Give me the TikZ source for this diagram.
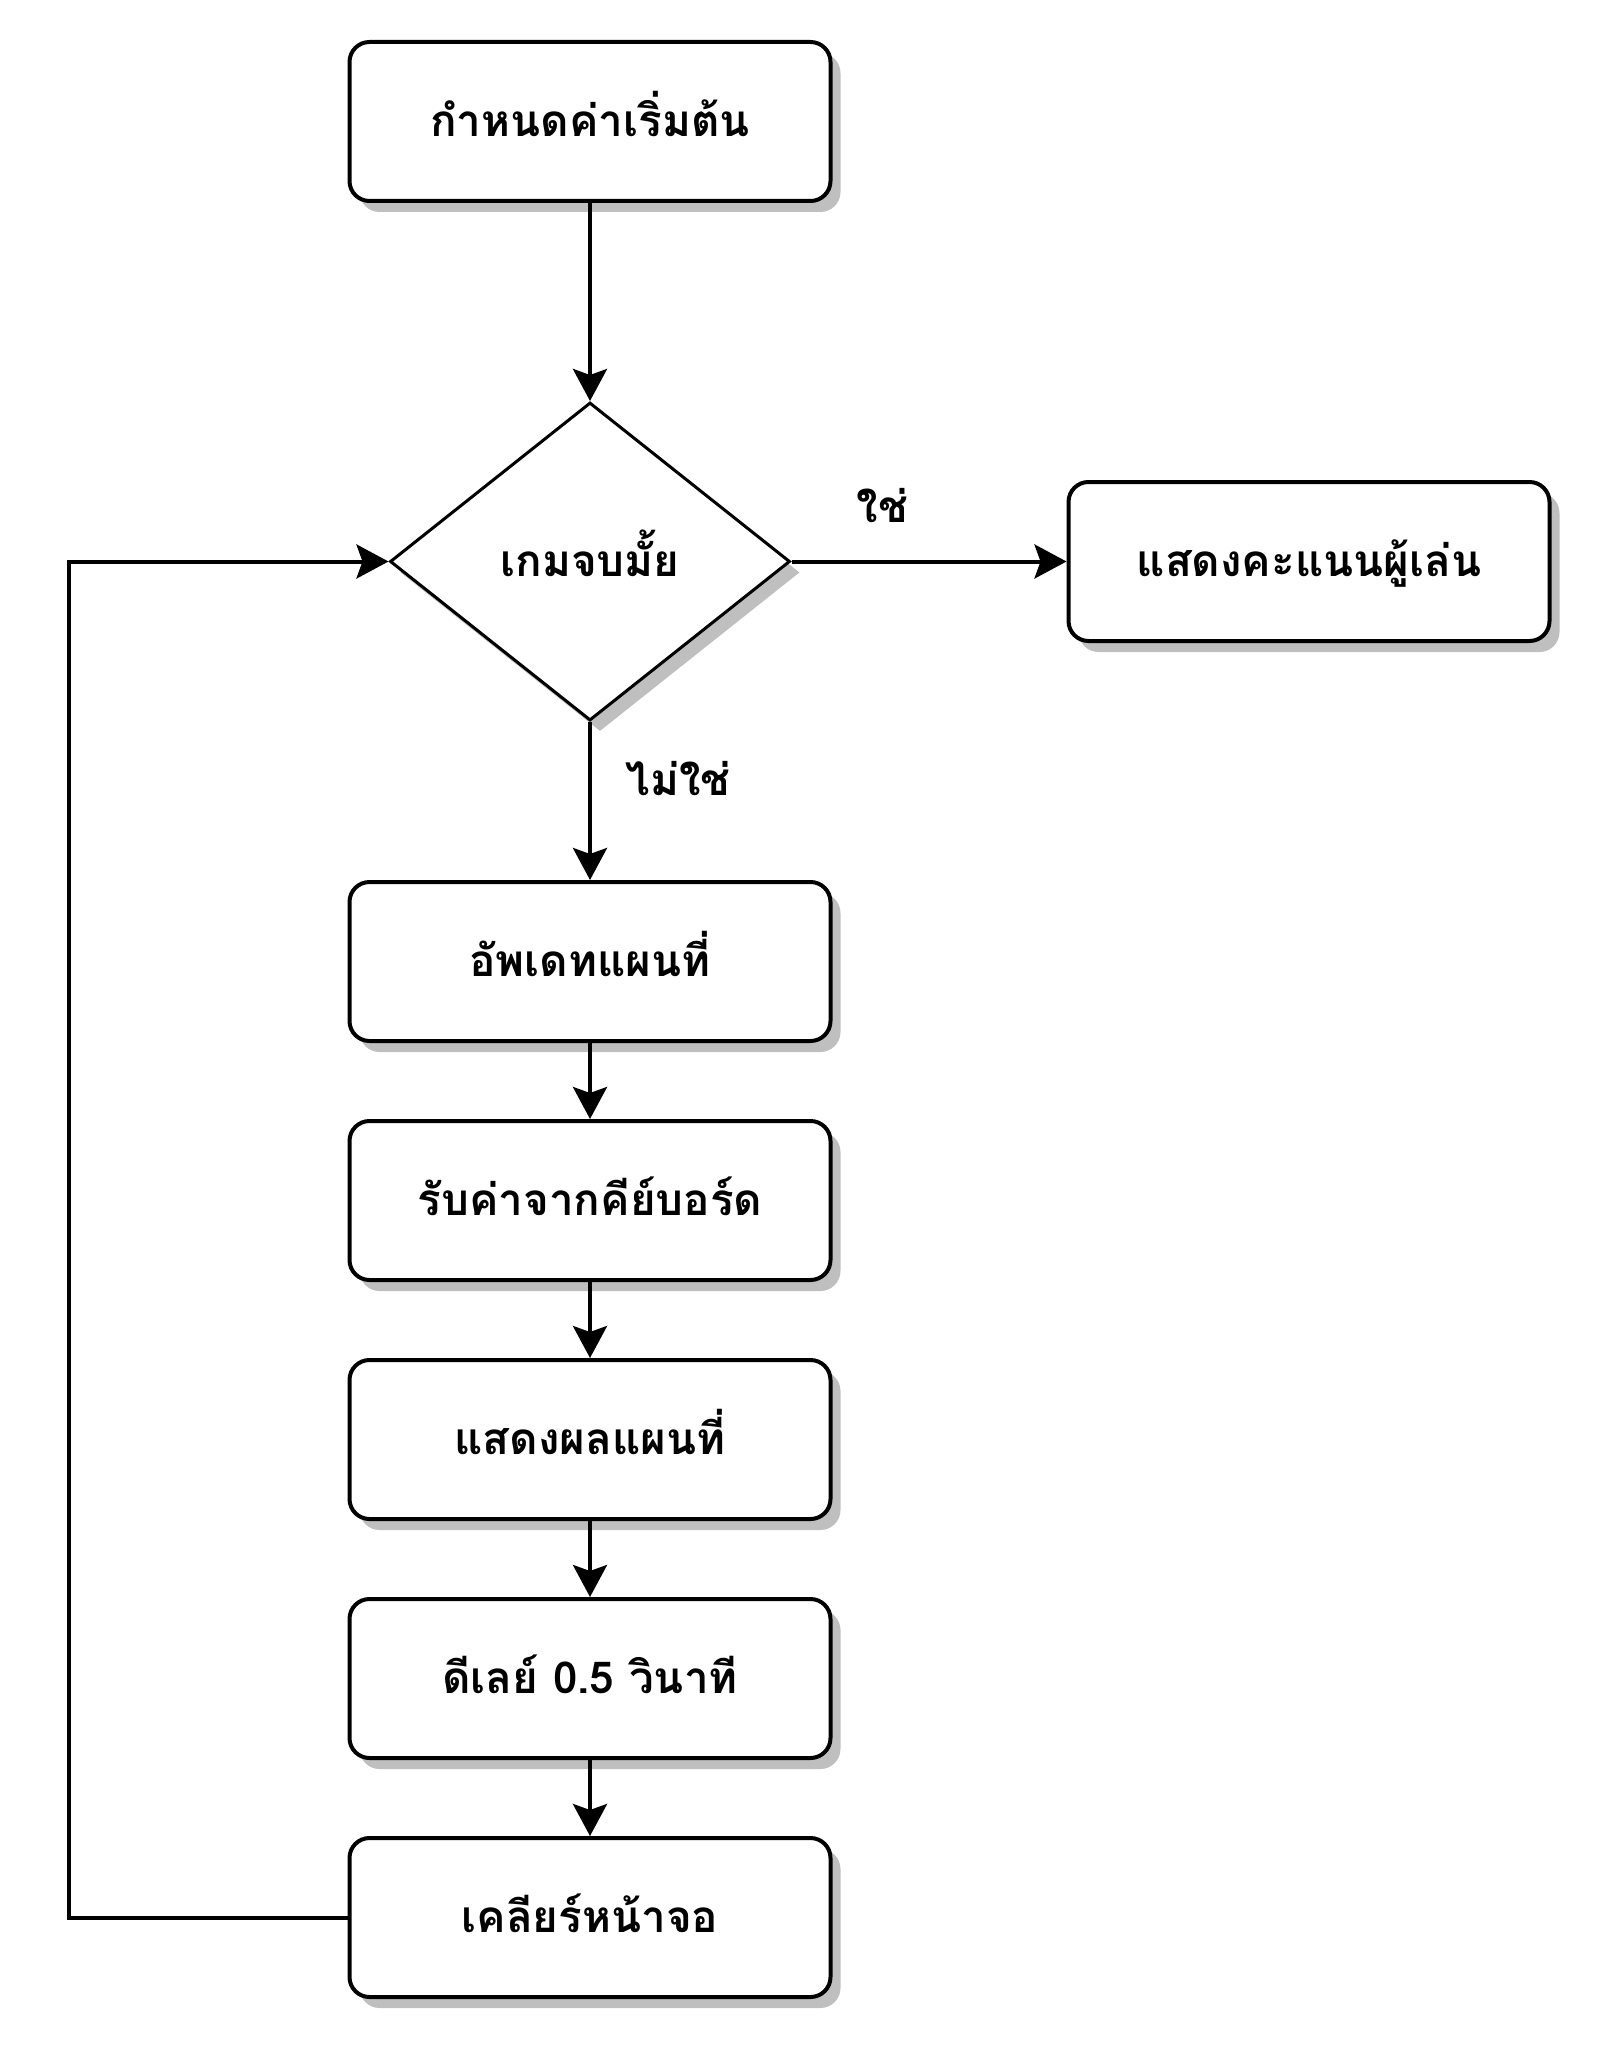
\documentclass[tikz,border=0pt]{standalone}
\usepackage{fontspec}
\newfontfamily\thaifont[Script=Thai]{Loma}
\usepackage{tikz}
\usetikzlibrary{shapes.geometric,arrows.meta,positioning,shadows}

\begin{document}
\begin{tikzpicture}[
    node distance=38pt,
    every node/.style={font=\thaifont\bfseries\fontsize{22}{26}\selectfont},
    process/.style={rectangle, rounded corners=10pt, draw, line width=2pt, fill=white, minimum width=240.5pt, minimum height=79.5pt, inner sep=0pt, text height=20pt, text depth=5pt, drop shadow={shadow xshift=5pt, shadow yshift=-5.5pt, fill=gray!50, opacity=1}},
    decision/.style={diamond, draw, line width=1.5pt, fill=white, aspect=1.258, minimum width=200pt, minimum height=159pt, inner sep=0pt, text height=20pt, text depth=5pt, drop shadow={shadow xshift=5pt, shadow yshift=-5.5pt, fill=gray!50, opacity=1}},
    arrow/.style={line width=2pt, -{Stealth[width=17pt, length=16pt, inset=3pt]}},
    answer/.style={fill=white, inner sep=1pt}
]
\useasboundingbox (0,0) rectangle (802pt,-1030pt);

% Main column
\node[process] (init) at (295pt,-60.75pt) {กำหนดค่าเริ่มต้น};
\node[decision, below=99pt of init] (gameover) {เกมจบมั้ย};
\node[process, below=79pt of gameover] (updatemap) {อัพเดทแผนที่};
\node[process, below=of updatemap] (readkey) {รับค่าจากคีย์บอร์ด};
\node[process, below=of readkey] (showmap) {แสดงผลแผนที่};
\node[process, below=of showmap] (delay) {ดีเลย์ 0.5 วินาที};
\node[process, below=of delay] (clearscreen) {เคลียร์หน้าจอ};

% Right - end of game
\node[process, right=137.5pt of gameover] (score) {แสดงคะแนนผู้เล่น};

% Arrows
\draw[arrow] (init) -- (gameover);
\draw[arrow] (gameover) -- node[answer, pos=0.33, yshift=28pt] {ใช่} (score);
\draw[arrow] (gameover) -- node[answer, pos=0.36, xshift=44pt] {ไม่ใช่} (updatemap);
\draw[arrow] (updatemap) -- (readkey);
\draw[arrow] (readkey) -- (showmap);
\draw[arrow] (showmap) -- (delay);
\draw[arrow] (delay) -- (clearscreen);
\draw[arrow] (clearscreen.west) -- ++(-139.5pt,0) |- (gameover.west);

\end{tikzpicture}
\end{document}
